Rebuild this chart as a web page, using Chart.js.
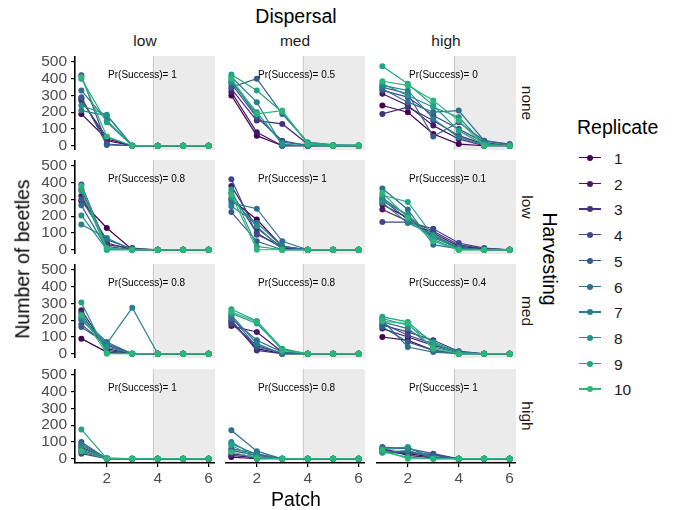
<!DOCTYPE html>
<html lang="en">
<head>
  <meta charset="UTF-8" />
  <title>Beetles per patch</title>
  <script src="https://cdn.jsdelivr.net/npm/chart.js"></script>
  <style>
    body { margin: 0; background: #ffffff; font-family: "Liberation Sans", Arial, sans-serif; }
    #wrap { position: relative; width: 675px; height: 510px; overflow: hidden; }
    .panel { position: absolute; }
    .txt { position: absolute; white-space: nowrap; color: #000; line-height: 1; }
    .strip { font-size: 15.5px; color: #1a1a1a; }
    .title { font-size: 19.5px; }
    .key { position: absolute; left: 579px; height: 20px; width: 80px; }
    .key .ln { position: absolute; left: 0; top: 9px; width: 22px; height: 1.4px; }
    .key .dot { position: absolute; left: 8px; top: 7px; width: 6px; height: 6px; border-radius: 50%; }
    .key span { position: absolute; left: 35px; top: 2px; font-size: 15.5px; color: #1a1a1a; }
  </style>
</head>
<body>
<div id="wrap"></div>

<script>
  const patches = [1, 2, 3, 4, 5, 6];
  const replicates = ['1', '2', '3', '4', '5', '6', '7', '8', '9', '10'];
  const dispersal = ['low', 'med', 'high'];
  const harvesting = ['none', 'low', 'med', 'high'];
  const yTicks = [0, 100, 200, 300, 400, 500];
  const xTicks = [2, 4, 6];
  const colors = ['#440154', '#461a6b', '#45327d', '#3f4989', '#365c8c',
                  '#2e6e8e', '#277f8e', '#22928b', '#23a386', '#2bb67b'];

  // Pr(Success) per harvesting row, one value per dispersal column
  const prNone = ['1', '0.5', '0'];
  const prLow  = ['0.8', '1', '0.1'];
  const prMed  = ['0.8', '0.8', '0.4'];
  const prHigh = ['1', '0.8', '1'];

  // beetles per patch, rows = replicate 1..10; named harvesting + dispersal
  const noneLow = [
    [190, 40, 0, 0, 0, 0], [280, 30, 0, 0, 0, 0], [270, 50, 0, 0, 0, 0], [420, 10, 0, 0, 0, 0],
    [290, 5, 0, 0, 0, 0], [330, 150, 0, 0, 0, 0], [210, 180, 0, 0, 0, 0], [240, 185, 0, 0, 0, 0],
    [400, 140, 0, 0, 0, 0], [410, 55, 0, 0, 0, 0]
  ];
  const noneMed = [
    [300, 60, 0, 0, 0, 0], [320, 80, 0, 0, 0, 0], [340, 150, 130, 10, 0, 0], [370, 170, 30, 0, 0, 0],
    [350, 400, 190, 20, 5, 0], [390, 180, 20, 5, 0, 0], [410, 260, 0, 0, 0, 0], [380, 200, 10, 0, 0, 0],
    [425, 330, 200, 20, 5, 5], [400, 190, 210, 10, 0, 0]
  ];
  const noneHigh = [
    [240, 200, 70, 10, 0, 0], [310, 240, 120, 40, 0, 0], [190, 230, 150, 60, 10, 0], [330, 290, 180, 100, 20, 0],
    [350, 310, 55, 140, 30, 10], [340, 260, 200, 210, 30, 5], [360, 330, 160, 50, 5, 0], [370, 300, 230, 170, 10, 0],
    [475, 370, 240, 90, 5, 0], [385, 360, 270, 150, 0, 0]
  ];
  const lowLow = [
    [290, 130, 0, 0, 0, 0], [320, 40, 0, 0, 0, 0], [360, 30, 10, 0, 0, 0], [390, 20, 0, 0, 0, 0],
    [300, 60, 5, 0, 0, 0], [265, 5, 0, 0, 0, 0], [150, 70, 0, 0, 0, 0], [205, 0, 0, 0, 0, 0],
    [350, 0, 0, 0, 0, 0], [380, 10, 0, 0, 0, 0]
  ];
  const lowMed = [
    [300, 180, 20, 0, 0, 0], [380, 130, 10, 0, 0, 0], [340, 100, 10, 0, 0, 0], [420, 90, 20, 0, 0, 0],
    [225, 50, 0, 0, 0, 0], [280, 245, 50, 0, 0, 0], [260, 160, 20, 0, 0, 0], [310, 140, 0, 0, 0, 0],
    [360, 20, 0, 0, 0, 0], [330, 0, 0, 0, 0, 0]
  ];
  const lowHigh = [
    [270, 190, 80, 10, 0, 0], [240, 170, 100, 20, 5, 0], [300, 180, 110, 30, 5, 0], [165, 165, 125, 40, 10, 0],
    [310, 200, 70, 15, 0, 0], [365, 240, 30, 5, 0, 0], [280, 160, 90, 10, 0, 0], [290, 210, 60, 0, 0, 0],
    [325, 285, 80, 0, 0, 0], [340, 190, 50, 0, 0, 0]
  ];
  const medLow = [
    [90, 10, 0, 0, 0, 0], [260, 30, 0, 0, 0, 0], [240, 20, 0, 0, 0, 0], [175, 50, 0, 0, 0, 0],
    [160, 60, 0, 0, 0, 0], [210, 70, 0, 0, 0, 0], [200, 60, 275, 0, 0, 0], [220, 40, 0, 0, 0, 0],
    [305, 5, 0, 0, 0, 0], [230, 0, 0, 0, 0, 0]
  ];
  const medMed = [
    [190, 30, 0, 0, 0, 0], [165, 130, 10, 0, 0, 0], [200, 20, 0, 0, 0, 0], [180, 50, 0, 0, 0, 0],
    [220, 40, 5, 0, 0, 0], [210, 80, 10, 0, 0, 0], [230, 60, 0, 0, 0, 0], [240, 180, 25, 0, 0, 0],
    [265, 195, 30, 0, 0, 0], [250, 190, 20, 0, 0, 0]
  ];
  const medHigh = [
    [100, 80, 20, 0, 0, 0], [150, 100, 50, 10, 0, 0], [170, 130, 80, 15, 0, 0], [180, 110, 60, 5, 0, 0],
    [160, 70, 20, 0, 0, 0], [200, 40, 10, 0, 0, 0], [190, 150, 40, 5, 0, 0], [210, 170, 70, 10, 0, 0],
    [220, 190, 60, 0, 0, 0], [195, 180, 30, 0, 0, 0]
  ];
  const highLow = [
    [70, 0, 0, 0, 0, 0], [50, 0, 0, 0, 0, 0], [40, 0, 0, 0, 0, 0], [30, 0, 0, 0, 0, 0],
    [100, 0, 0, 0, 0, 0], [90, 0, 0, 0, 0, 0], [80, 0, 0, 0, 0, 0], [60, 5, 0, 0, 0, 0],
    [175, 0, 0, 0, 0, 0], [45, 0, 0, 0, 0, 0]
  ];
  const highMed = [
    [10, 0, 0, 0, 0, 0], [20, 5, 0, 0, 0, 0], [30, 10, 0, 0, 0, 0], [50, 20, 0, 0, 0, 0],
    [60, 30, 0, 0, 0, 0], [170, 45, 0, 0, 0, 0], [90, 25, 0, 0, 0, 0], [100, 10, 0, 0, 0, 0],
    [80, 0, 0, 0, 0, 0], [40, 5, 0, 0, 0, 0]
  ];
  const highHigh = [
    [40, 30, 10, 0, 0, 0], [60, 20, 5, 0, 0, 0], [50, 40, 25, 0, 0, 0], [70, 60, 30, 0, 0, 0],
    [45, 35, 20, 0, 0, 0], [55, 65, 10, 0, 0, 0], [35, 50, 5, 0, 0, 0], [60, 70, 0, 0, 0, 0],
    [40, 10, 0, 0, 0, 0], [50, 0, 0, 0, 0, 0]
  ];

  const grid = [
    [noneLow, noneMed, noneHigh],
    [lowLow, lowMed, lowHigh],
    [medLow, medMed, medHigh],
    [highLow, highMed, highHigh]
  ];
  const prGrid = [prNone, prLow, prMed, prHigh];

  // panel geometry (px)
  const panelLeft = [75, 225, 376];
  const panelTop = [56, 160, 264, 369];
  const panelW = 140, panelH = 94;
  const yAxisW = 44, xAxisH = 30;

  const wrap = document.getElementById('wrap');

  // grey block for patches 4+ and the Pr(Success) note
  const shadePlugin = {
    id: 'shade',
    beforeDraw(chart) {
      const { ctx, chartArea: a, scales: { x } } = chart;
      const x0 = x.getPixelForValue(3.8);
      ctx.save();
      ctx.fillStyle = '#ebebeb';
      ctx.fillRect(x0, a.top, a.right - x0, a.bottom - a.top);
      ctx.strokeStyle = '#cccccc';
      ctx.lineWidth = 1;
      ctx.beginPath();
      ctx.moveTo(Math.round(x0) + 0.5, a.top);
      ctx.lineTo(Math.round(x0) + 0.5, a.bottom);
      ctx.stroke();
      ctx.restore();
    },
    afterDatasetsDraw(chart, args, opts) {
      const { ctx, scales: { x, y } } = chart;
      ctx.save();
      ctx.font = '10px "Liberation Sans", Arial, sans-serif';
      ctx.fillStyle = '#000';
      ctx.textAlign = 'left';
      ctx.textBaseline = 'middle';
      ctx.fillText('Pr(Success)= ' + opts.pr, x.getPixelForValue(2.05), y.getPixelForValue(420));
      ctx.restore();
    }
  };

  const tickFont = { family: '"Liberation Sans", Arial, sans-serif', size: 15.5 };

  harvesting.forEach((h, r) => {
    dispersal.forEach((d, c) => {
      const showY = c === 0, showX = r === 3;
      const div = document.createElement('div');
      div.className = 'panel';
      const w = panelW + (showY ? yAxisW : 0);
      const ht = panelH + (showX ? xAxisH : 0);
      div.style.left = (panelLeft[c] - (showY ? yAxisW : 0)) + 'px';
      div.style.top = panelTop[r] + 'px';
      const canvas = document.createElement('canvas');
      canvas.width = w; canvas.height = ht;
      canvas.style.width = w + 'px'; canvas.style.height = ht + 'px';
      div.appendChild(canvas);
      wrap.appendChild(div);

      const datasets = grid[r][c].map((vals, i) => ({
        label: replicates[i],
        data: patches.map((p, k) => ({ x: p, y: vals[k] })),
        borderColor: colors[i],
        backgroundColor: colors[i],
        pointBackgroundColor: colors[i],
        borderWidth: 1.2,
        pointRadius: 3,
        pointBorderWidth: 0,
        tension: 0,
        order: -i
      }));

      new Chart(canvas, {
        type: 'line',
        data: { datasets },
        options: {
          responsive: false,
          animation: false,
          devicePixelRatio: 1,
          layout: { padding: 0, autoPadding: false },
          plugins: {
            legend: { display: false },
            tooltip: { enabled: false },
            shade: { pr: prGrid[r][c] }
          },
          scales: {
            x: {
              type: 'linear', min: 0.75, max: 6.25, display: showX,
              afterBuildTicks: s => { s.ticks = xTicks.map(v => ({ value: v })); },
              afterFit: s => {
                s.height = showX ? xAxisH : 0;
                s.paddingLeft = 0; s.paddingRight = 0;
              },
              grid: { drawOnChartArea: false, drawTicks: true, tickLength: 4, color: '#000', lineWidth: 1.2 },
              border: { display: true, color: '#000', width: 1.6 },
              ticks: { color: '#4d4d4d', font: tickFont, padding: 2, maxRotation: 0, autoSkip: false }
            },
            y: {
              type: 'linear', min: -25.5, max: 535.5, display: showY,
              afterBuildTicks: s => { s.ticks = yTicks.map(v => ({ value: v })); },
              afterFit: s => {
                s.width = showY ? yAxisW : 0;
                s.paddingTop = 0; s.paddingBottom = 0;
              },
              grid: { drawOnChartArea: false, drawTicks: true, tickLength: 4, color: '#000', lineWidth: 1.2 },
              border: { display: true, color: '#000', width: 1.6 },
              ticks: { color: '#4d4d4d', font: tickFont, padding: 4, autoSkip: false }
            }
          }
        },
        plugins: [shadePlugin]
      });
    });
  });

  // text labels: facet strips, axis titles
  function addText(str, cls, x, y, rot) {
    const el = document.createElement('div');
    el.className = 'txt ' + cls;
    el.textContent = str;
    el.style.left = x + 'px';
    el.style.top = y + 'px';
    el.style.transform = 'translate(-50%, -50%)' + (rot ? ' rotate(' + rot + 'deg)' : '');
    wrap.appendChild(el);
  }
  dispersal.forEach((d, c) => addText(d, 'strip', panelLeft[c] + panelW / 2, 41));
  harvesting.forEach((h, r) => addText(h, 'strip', 527, panelTop[r] + panelH / 2, 90));
  addText('Dispersal', 'title', 296, 17);
  addText('Patch', 'title', 296, 500);
  addText('Number of beetles', 'title', 23, 259, -90);
  addText('Harvesting', 'title', 549, 259, 90);

  // legend
  const legTitle = document.createElement('div');
  legTitle.className = 'txt title';
  legTitle.textContent = 'Replicate';
  legTitle.style.left = '577px';
  legTitle.style.top = '118px';
  wrap.appendChild(legTitle);
  replicates.forEach((rep, i) => {
    const k = document.createElement('div');
    k.className = 'key';
    k.style.top = (148 + i * 25.7) + 'px';
    k.innerHTML = '<i class="ln"></i><i class="dot"></i><span></span>';
    k.querySelector('.ln').style.background = colors[i];
    k.querySelector('.dot').style.background = colors[i];
    k.querySelector('span').textContent = rep;
    wrap.appendChild(k);
  });
</script>
</body>
</html>
